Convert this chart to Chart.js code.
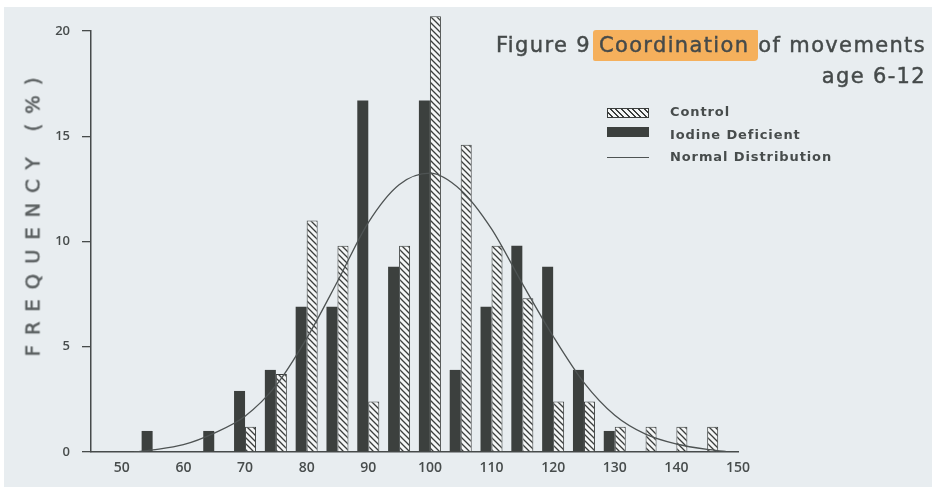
<!DOCTYPE html>
<html>
<head>
<meta charset="utf-8">
<script src="https://cdn.jsdelivr.net/npm/chart.js@4"></script>
<style>
html,body{margin:0;padding:0;background:#ffffff;}
#wrap{position:relative;width:932px;height:487px;overflow:hidden;background:#ffffff;}
#paper{position:absolute;left:4px;top:7px;right:0;bottom:0;background:#e8edf0;}
#c{position:absolute;left:0;top:0;}
#title{position:absolute;right:6px;top:30px;font-family:"DejaVu Sans";font-size:21px;line-height:31px;letter-spacing:1.35px;color:#454a4a;-webkit-text-stroke:0.45px #454a4a;text-align:right;white-space:nowrap;}
.hl{background:rgba(247,165,66,0.85);padding:3px 1px 4px 6px;margin-left:-6px;border-radius:3px 1px 4px 2px;}
#ytitle{position:absolute;left:33px;top:212px;transform:translate(-50%,-50%) rotate(-90deg);font-family:"DejaVu Sans";font-size:19.5px;letter-spacing:10px;color:#5a5f60;-webkit-text-stroke:0.6px #5a5f60;white-space:nowrap;}
.lg{position:absolute;font-family:"DejaVu Sans";font-weight:bold;font-size:13px;letter-spacing:0.9px;color:#474c4c;white-space:nowrap;line-height:16px;}
.sw{position:absolute;left:607px;width:42px;box-sizing:border-box;}
</style>
</head>
<body>
<div id="wrap">
  <div id="paper"></div>
  <canvas id="c" width="932" height="487"></canvas>
  <div id="title">Figure 9 <span class="hl">Coordination </span>of movements<br>age 6-12</div>
  <div id="ytitle">FREQUENCY (%)</div>
  <div class="sw" style="top:108px;height:10px;border:1px solid #3a3d3c;background:repeating-linear-gradient(45deg,#f4f6f6 0px,#f4f6f6 2.6px,#3a3d3c 2.6px,#3a3d3c 4px);"></div>
  <div class="lg" style="left:670px;top:104px;">Control</div>
  <div class="sw" style="top:127px;height:10px;background:#3c403e;"></div>
  <div class="lg" style="left:670px;top:127px;">Iodine Deficient</div>
  <div class="sw" style="top:157px;height:1.4px;background:#4e5353;"></div>
  <div class="lg" style="left:670px;top:149px;">Normal Distribution</div>
</div>
<script>
// ---- data ----
const binCenters      = [55, 60, 65, 70, 75, 80, 85, 90, 95, 100, 105, 110, 115, 120, 125, 130, 135, 140, 145];
const iodineDeficient = [1.0, null, 1.0, 2.9, 3.9, 6.9, 6.9, 16.7, 8.8, 16.7, 3.9, 6.9, 9.8, 8.8, 3.9, 1.0, null, null, null];
const control         = [null, null, null, 1.2, 3.7, 11.0, 9.8, 2.4, 9.8, 20.7, 14.6, 9.8, 7.3, 2.4, 2.4, 1.2, 1.2, 1.2, 1.2];
const curveX = [52, 55, 60, 65, 70, 75, 80, 85, 90, 95, 100, 105, 110, 115, 120, 125, 130, 135, 140, 145, 148];
const curveY = [0, 0.1, 0.35, 0.9, 1.7, 3.15, 5.4, 8.1, 10.9, 12.7, 13.25, 12.45, 10.6, 8.0, 5.5, 3.3, 1.75, 0.85, 0.38, 0.12, 0.03];
const xTickValues = [50, 60, 70, 80, 90, 100, 110, 120, 130, 140, 150];
const yTickValues = [0, 5, 10, 15, 20];

function pairs(xs, ys){
  const out = [];
  xs.forEach((x, i) => { if (ys[i] !== null && ys[i] !== undefined) out.push({x: x, y: ys[i]}); });
  return out;
}

function makeHatch(){
  const s = 6;
  const cv = document.createElement('canvas');
  cv.width = s; cv.height = s;
  const g = cv.getContext('2d');
  g.fillStyle = '#f4f6f6';
  g.fillRect(0, 0, s, s);
  g.strokeStyle = '#3a3d3c';
  g.lineWidth = 1.3;
  g.beginPath();
  [-s, 0, s].forEach(k => { g.moveTo(k - 1, -1); g.lineTo(k + s + 1, s + 1); });
  g.stroke();
  return g.createPattern(cv, 'repeat');
}

const axisColor = '#474b4b';
const tickFontX = {family: 'Open Sans', size: 14, weight: '600'};
const tickFontY = {family: 'Open Sans', size: 13, weight: '600'};

new Chart(document.getElementById('c'), {
  type: 'bar',
  data: {
    datasets: [
      {
        type: 'line',
        label: 'Normal Distribution',
        data: pairs(curveX, curveY),
        borderColor: '#4e5353',
        borderWidth: 1.3,
        pointRadius: 0,
        fill: false,
        cubicInterpolationMode: 'monotone',
        order: 0
      },
      {
        label: 'Iodine Deficient',
        data: pairs(binCenters, iodineDeficient),
        backgroundColor: '#3c403e',
        borderWidth: 0,
        order: 1,
        clip: false
      },
      {
        label: 'Control',
        data: pairs(binCenters, control),
        backgroundColor: makeHatch(),
        borderColor: '#3a3d3c',
        borderWidth: 1,
        order: 1,
        clip: false
      }
    ]
  },
  options: {
    responsive: false,
    animation: false,
    devicePixelRatio: 1,
    categoryPercentage: 0.714,
    barPercentage: 1,
    layout: {padding: {left: 0, right: 194, top: 31, bottom: 0}},
    plugins: {legend: {display: false}, tooltip: {enabled: false}, title: {display: false}},
    scales: {
      x: {
        type: 'linear', min: 45, max: 150, offset: false,
        grid: {display: true, drawOnChartArea: false, drawTicks: false, offset: false},
        border: {display: true, color: axisColor, width: 1.5},
        ticks: {padding: 8, font: tickFontX, color: '#474c4c', maxRotation: 0},
        afterBuildTicks: s => { s.ticks = xTickValues.map(v => ({value: v})); },
        afterFit: s => { s.height = 35; }
      },
      y: {
        type: 'linear', min: 0, max: 20,
        grid: {display: true, drawOnChartArea: false, drawTicks: true, tickLength: 9, color: axisColor, lineWidth: 1.3},
        border: {display: true, color: axisColor, width: 1.5},
        ticks: {padding: 12, font: tickFontY, color: '#474c4c'},
        afterBuildTicks: s => { s.ticks = yTickValues.map(v => ({value: v})); },
        afterFit: s => { s.width = 91; }
      }
    }
  }
});
</script>
</body>
</html>
